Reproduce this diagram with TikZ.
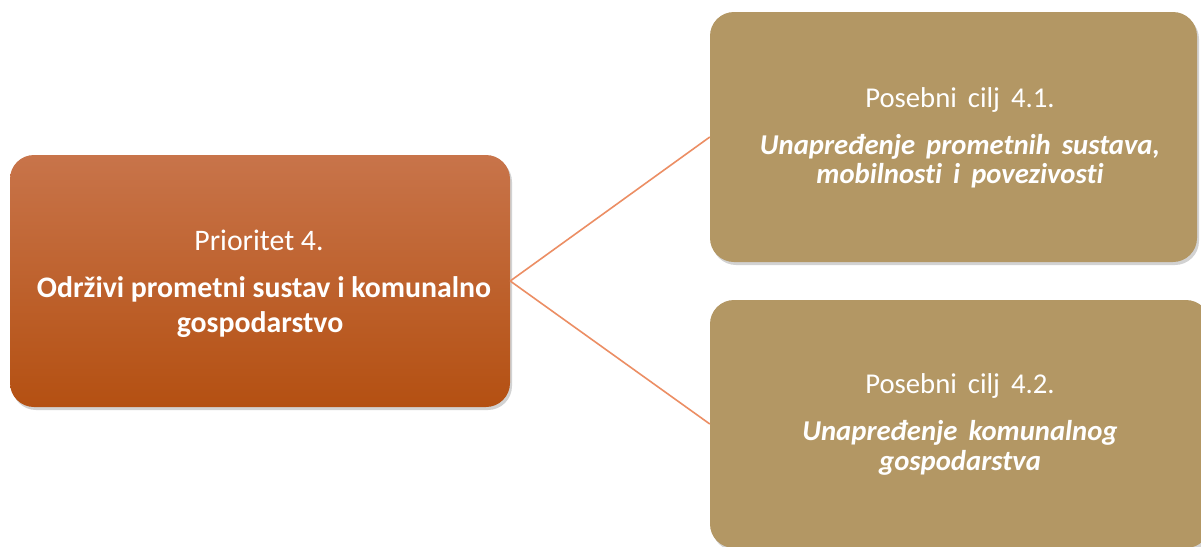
\documentclass[tikz,border=0pt]{standalone}
\usepackage{fontspec}
\setmainfont[Ligatures={NoCommon}]{Carlito}
\newfontfamily\widefont[WordSpace=1.7,Ligatures={NoCommon}]{Carlito}
\usetikzlibrary{shadows}
\definecolor{prioTop}{RGB}{200,116,74}
\definecolor{prioBot}{RGB}{180,80,18}
\definecolor{ciljFill}{RGB}{179,151,100}
\definecolor{linkCol}{RGB}{236,142,100}
\begin{document}
\begin{tikzpicture}[x=1pt,y=-1pt,
  box/.style={rounded corners=24pt, draw=none, inner sep=0pt,
    drop shadow={opacity=0.35, shadow xshift=2pt, shadow yshift=-3pt}},
  prio/.style={box, top color=prioTop, bottom color=prioBot,
    minimum width=500pt, minimum height=252pt},
  cilj/.style={box, fill=ciljFill},
  txt/.style={text=white, anchor=base, inner sep=0pt,
    font=\fontsize{29.8}{35}\selectfont},
  btxt/.style={txt, font=\bfseries\fontsize{29.8}{35}\selectfont},
  wtxt/.style={text=white, anchor=base, inner sep=0pt,
    font=\widefont\fontsize{28.7}{35}\selectfont},
  witxt/.style={wtxt, font=\widefont\bfseries\itshape\fontsize{28.7}{35}\selectfont},
  link/.style={draw=linkCol, line width=1.6pt}
]
\useasboundingbox (0,0) rectangle (1201,546);
\fill[white] (0,0) rectangle (1201,546);
% boxes
\node[prio] (prio) at (260,281) {};
\node[cilj, minimum width=487pt, minimum height=250pt] (c1) at (953.5,137) {};
\node[cilj, minimum width=500pt, minimum height=248pt] (c2) at (960,424) {};
% connectors
\draw[link] (prio.east) -- (c1.west);
\draw[link] (prio.east) -- (c2.west);
% texts left
\node[txt] (p1) at (259,250) {Prioritet 4.};
\node[btxt] (p2) at (264,297) {Održivi prometni sustav i komunalno};
\node[btxt] (p3) at (260,332) {gospodarstvo};
% texts top right
\node[wtxt] (a1) at (960,107) {Posebni cilj 4.1.};
\node[witxt] (a2) at (960,154) {Unapređenje prometnih sustava,};
\node[witxt] (a3) at (960,183) {mobilnosti i povezivosti};
% texts bottom right
\node[wtxt] (b1) at (960,393) {Posebni cilj 4.2.};
\node[witxt] (b2) at (960,440) {Unapređenje komunalnog};
\node[witxt] (b3) at (960,470) {gospodarstva};
\end{tikzpicture}
\end{document}
